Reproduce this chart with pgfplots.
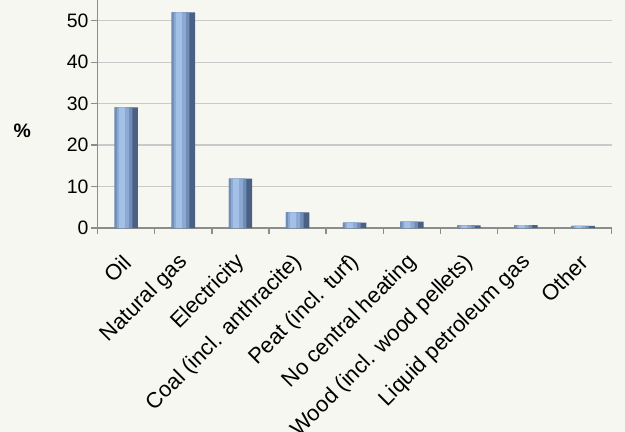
\documentclass[border=0pt]{standalone}
\usepackage{pgfplots}
\pgfplotsset{compat=1.18}
\usepackage{fontspec}
\setmainfont{Liberation Sans}
\definecolor{bg}{HTML}{F7F7F2}
\definecolor{gridc}{HTML}{CACACA}
\definecolor{axc}{HTML}{8C8C8C}
\definecolor{bar0}{HTML}{4A6184}
\definecolor{bar1}{HTML}{6F8DB8}
\definecolor{bar2}{HTML}{8BA9D3}
\definecolor{bar3}{HTML}{A3C0E6}
\pgfplotstableread{
x y
0 29.1
1 52.0
2 11.9
3 3.8
4 1.3
5 1.55
6 0.65
7 0.7
8 0.5
}\datatable
\begin{document}
\begin{tikzpicture}
\path[use as bounding box] (-97.7bp,-204bp) rectangle (527.3bp,228bp);
\fill[bg] (-97.7bp,-204bp) rectangle (527.3bp,228bp);
\begin{axis}[
  at={(0,0)}, anchor=south west,
  scale only axis, width=514bp, height=228bp,
  xmin=-0.5, xmax=8.5, ymin=0, ymax=55,
  axis lines*=left,
  axis line style={draw=axc, line width=1.5pt},
  /pgf/number format/assume math mode=true,
  ytick={0,10,...,50},
  ymajorgrids, grid style={draw=gridc, line width=1.3pt},
  tick align=outside,
  major tick length=7bp,
  ytick style={draw=axc, line width=1.3pt},
  xtick={0,...,8},
  xtick style={draw=none},
  xticklabels={Oil,Natural gas,Electricity,Coal (incl. anthracite),Peat (incl. turf),No central heating,Wood (incl. wood pellets),Liquid petroleum gas,Other},
  x tick label style={xshift=1bp, yshift=-24bp, rotate=45, anchor=east, inner sep=0pt, font=\fontsize{22}{25}\selectfont, text=black},
  y tick label style={anchor=east, inner sep=0pt, font=\fontsize{19.5}{22}\selectfont, text=black, xshift=-2bp},
  extra x ticks={-0.5,0.5,...,8.5},
  extra x tick labels={},
  extra x tick style={xtick style={draw=axc, line width=1.3pt}, grid=none, major tick length=6bp},
  ylabel={\textbf{\%}},
  ylabel style={rotate=-90, font=\fontsize{19.5}{22}\selectfont, at={(axis description cs:-0.147,0.425)}, anchor=center},
  ]
\addplot[ybar, bar width=23.4bp, bar shift=0bp, draw=none, fill=bar0] table[x=x,y=y] {\datatable};
\addplot[ybar, bar width=17.7bp, bar shift=-2.85bp, draw=none, fill=bar1] table[x=x,y=y] {\datatable};
\addplot[ybar, bar width=12bp, bar shift=-3.5bp, draw=none, fill=bar2] table[x=x,y=y] {\datatable};
\addplot[ybar, bar width=6bp, bar shift=-4.5bp, draw=none, fill=bar3] table[x=x,y=y] {\datatable};
\end{axis}
\end{tikzpicture}
\end{document}
